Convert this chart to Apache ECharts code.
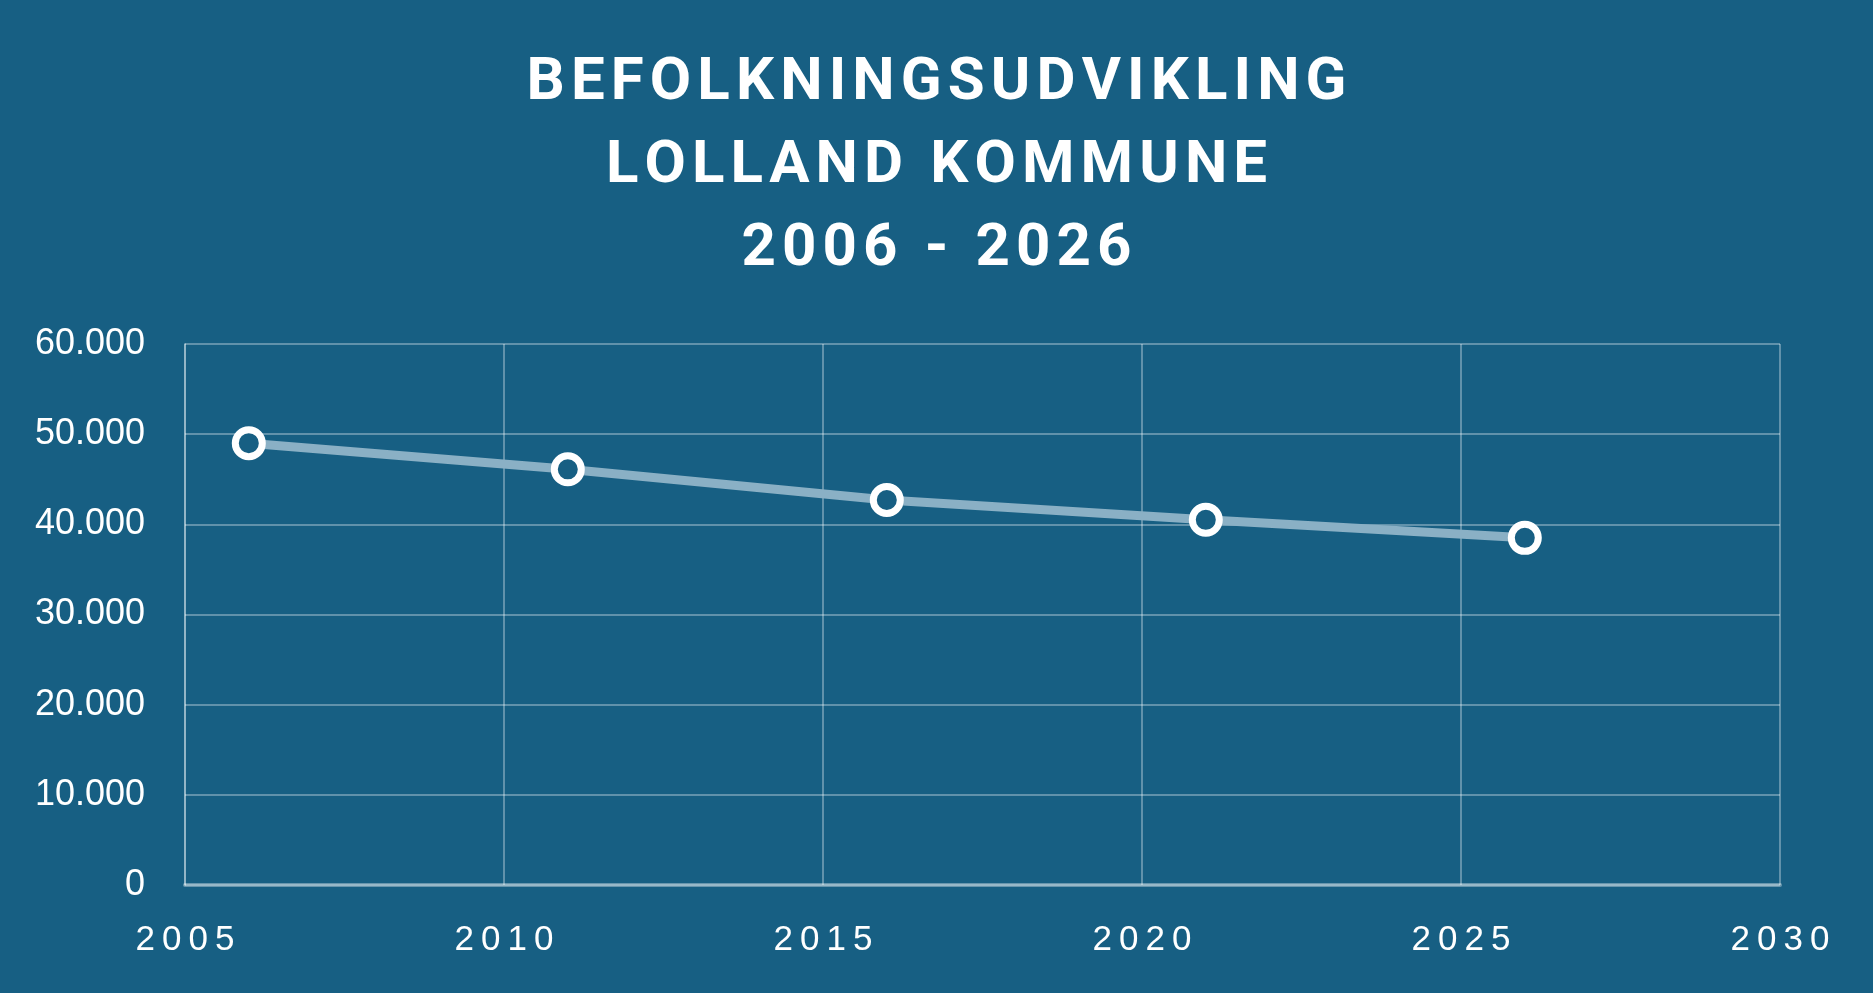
<!DOCTYPE html>
<html>
<head>
<meta charset="utf-8">
<script src="https://cdn.jsdelivr.net/npm/echarts@6/dist/echarts.min.js"></script>
<style>
  html, body { margin: 0; padding: 0; background: #175f83; }
  #chart { width: 1873px; height: 993px; }
</style>
</head>
<body>
<div id="chart"></div>
<script>
// Befolkning, Lolland Kommune
const years = [2006, 2011, 2016, 2021, 2026];
const population = [49000, 46100, 42700, 40500, 38500];

const titleLines = ['BEFOLKNINGSUDVIKLING', 'LOLLAND KOMMUNE', '2006 - 2026'];

const chart = echarts.init(document.getElementById('chart'));

// no letterSpacing in zrender, so pad with thin/hair spaces
const spaced = (s, sep) => String(s).split('').join(sep);
const thousands = v => String(v).replace(/\B(?=(\d{3})+(?!\d))/g, '.');

chart.setOption({
  backgroundColor: '#175f83',
  animation: false,
  title: {
    text: titleLines.map(l => spaced(l, '\u200a')).join('\n'),
    left: 'center',
    top: 37,
    textStyle: {
      color: '#ffffff',
      fontFamily: 'Roboto',
      fontWeight: 'bold',
      fontSize: 60,
      lineHeight: 83
    }
  },
  grid: { left: 185, right: 93, top: 344, bottom: 108 },
  xAxis: {
    type: 'value',
    min: 2005,
    max: 2030,
    interval: 5,
    axisLine: { show: true, lineStyle: { color: 'rgba(255,255,255,0.35)', width: 4 } },
    axisTick: { show: false },
    splitLine: { show: true, lineStyle: { color: 'rgba(255,255,255,0.32)', width: 2 } },
    axisLabel: {
      color: '#ffffff',
      fontFamily: 'Liberation Sans',
      fontSize: 35,
      margin: 38,
      formatter: v => spaced(v, '\u2009')
    }
  },
  yAxis: {
    type: 'value',
    min: 0,
    max: 60000,
    interval: 10000,
    axisLine: { show: true, lineStyle: { color: 'rgba(255,255,255,0.32)', width: 2 } },
    axisTick: { show: false },
    splitLine: { show: true, lineStyle: { color: 'rgba(255,255,255,0.32)', width: 2 } },
    axisLabel: {
      color: '#ffffff',
      fontFamily: 'Liberation Sans',
      fontSize: 36,
      margin: 40,
      formatter: v => thousands(v)
    }
  },
  series: [{
    type: 'line',
    data: years.map((y, i) => [y, population[i]]),
    symbol: 'circle',
    symbolSize: 27,
    lineStyle: { color: '#8ab0c5', width: 9 },
    itemStyle: { color: '#175f83', borderColor: '#ffffff', borderWidth: 7 }
  }]
});
</script>
</body>
</html>
